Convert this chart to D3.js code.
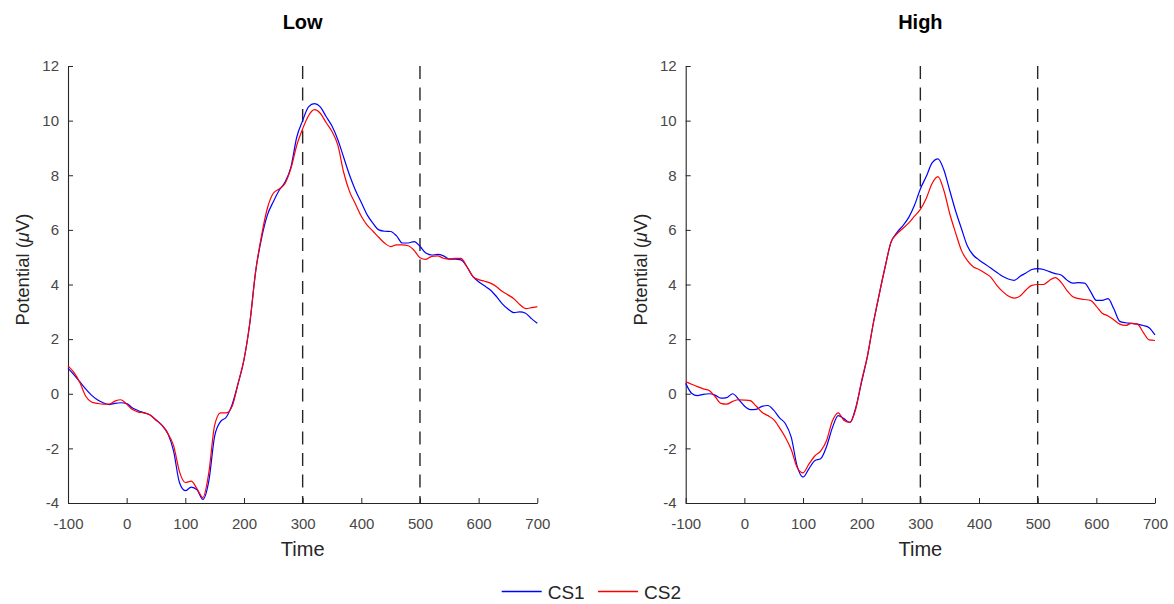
<!DOCTYPE html>
<html>
<head>
<meta charset="utf-8">
<script src="https://cdn.jsdelivr.net/npm/d3@7/dist/d3.min.js"></script>
<style>
  html, body { margin: 0; padding: 0; background: #fff; }
  svg { display: block; font-family: "Liberation Sans", Arial, Helvetica, sans-serif; }
</style>
</head>
<body>
<svg id="chart" width="1174" height="604"></svg>
<script>
// Sample times (ms), one value per 10 ms
const times = [-100,-90,-80,-70,-60,-50,-40,-30,-20,-10,0,10,20,30,40,50,60,70,80,90,
  100,110,120,130,140,150,160,170,180,190,200,210,220,230,240,250,260,270,280,290,
  300,310,320,330,340,350,360,370,380,390,400,410,420,430,440,450,460,470,480,490,
  500,510,520,530,540,550,560,570,580,590,600,610,620,630,640,650,660,670,680,690,700];

// Low condition
const lowCS1 = [0.93,0.70,0.44,0.18,-0.05,-0.22,-0.33,-0.40,-0.35,-0.33,-0.36,-0.52,-0.62,-0.70,-0.78,-0.95,-1.15,-1.45,-2.10,-3.25,
  -3.55,-3.42,-3.52,-3.87,-3.20,-1.55,-1.02,-0.85,-0.38,0.38,1.25,2.60,4.50,5.70,6.55,7.03,7.45,7.75,8.30,9.40,
  10.00,10.50,10.62,10.50,10.15,9.80,9.30,8.65,8.00,7.45,7.00,6.55,6.24,6.00,5.95,5.94,5.78,5.52,5.52,5.57,
  5.40,5.15,5.08,5.10,5.05,4.93,4.93,4.90,4.65,4.30,4.10,3.95,3.80,3.57,3.30,3.10,2.97,3.00,2.95,2.75,2.58];
const lowCS2 = [1.02,0.78,0.42,-0.08,-0.30,-0.35,-0.38,-0.38,-0.27,-0.22,-0.38,-0.58,-0.67,-0.70,-0.78,-0.97,-1.15,-1.45,-1.90,-2.85,
  -3.25,-3.20,-3.48,-3.80,-2.90,-1.15,-0.70,-0.70,-0.45,0.38,1.25,2.60,4.50,5.80,6.80,7.34,7.50,7.70,8.25,9.10,
  9.70,10.18,10.40,10.27,9.93,9.60,9.10,8.10,7.40,6.95,6.50,6.17,5.95,5.72,5.51,5.39,5.45,5.45,5.42,5.25,
  4.98,4.92,5.03,5.05,4.96,4.93,4.96,4.96,4.65,4.30,4.18,4.12,4.05,3.93,3.75,3.62,3.48,3.27,3.12,3.15,3.19];

// High condition
const highCS1 = [0.38,0.02,-0.07,-0.02,0.00,-0.05,-0.16,-0.14,0.00,-0.20,-0.45,-0.58,-0.57,-0.46,-0.43,-0.60,-0.88,-1.10,-1.60,-2.65,
  -3.05,-2.75,-2.45,-2.38,-1.94,-1.25,-0.80,-0.92,-1.05,-0.50,0.44,1.40,2.60,3.65,4.65,5.55,5.90,6.15,6.45,6.90,
  7.50,7.95,8.45,8.60,8.20,7.45,6.70,6.05,5.42,5.08,4.90,4.75,4.60,4.45,4.30,4.20,4.15,4.30,4.42,4.55,
  4.58,4.55,4.47,4.40,4.35,4.16,4.05,4.07,4.05,3.75,3.42,3.42,3.48,3.10,2.65,2.60,2.58,2.55,2.50,2.42,2.15];
const highCS2 = [0.44,0.35,0.26,0.18,0.12,-0.10,-0.35,-0.38,-0.28,-0.22,-0.23,-0.25,-0.45,-0.68,-0.80,-0.95,-1.25,-1.60,-2.05,-2.70,
  -2.90,-2.58,-2.28,-2.10,-1.72,-1.00,-0.70,-0.98,-1.05,-0.55,0.50,1.40,2.60,3.65,4.65,5.55,5.85,6.05,6.25,6.50,
  6.75,7.15,7.70,7.95,7.45,6.60,5.90,5.25,4.88,4.65,4.55,4.42,4.27,3.98,3.75,3.58,3.50,3.58,3.80,3.97,
  4.00,4.00,4.15,4.25,4.08,3.78,3.55,3.48,3.45,3.42,3.20,2.95,2.85,2.70,2.55,2.50,2.58,2.55,2.25,1.97,1.95];

const xTicks = [-100, 0, 100, 200, 300, 400, 500, 600, 700];
const yTicks = [-4, -2, 0, 2, 4, 6, 8, 10, 12];
const markers = [300, 500];
const seriesNames = ["CS1", "CS2"];
const seriesColors = ["#0000ff", "#ff0000"];

const panels = [
  { title: "Low",  left: 68,    values: [lowCS1, lowCS2] },
  { title: "High", left: 685.7, values: [highCS1, highCS2] }
];

const svg = d3.select("#chart");
const plotW = 469.3, plotTop = 66, plotBottom = 503;
const axisColor = "#262626";
const plainNumber = d => String(d);   // ASCII hyphen for negatives

panels.forEach(p => {
  const x = d3.scaleLinear().domain([-100, 700]).range([p.left, p.left + plotW]);
  const y = d3.scaleLinear().domain([-4, 12]).range([plotBottom, plotTop]);
  const g = svg.append("g");

  // Axes with inward ticks
  const xAxis = g.append("g").attr("transform", `translate(0,${plotBottom})`)
    .call(d3.axisBottom(x).tickValues(xTicks).tickFormat(plainNumber)
      .tickSizeInner(-5).tickSizeOuter(0).tickPadding(15));
  const yAxis = g.append("g").attr("transform", `translate(${p.left},0)`)
    .call(d3.axisLeft(y).tickValues(yTicks).tickFormat(plainNumber)
      .tickSizeInner(-5).tickSizeOuter(0).tickPadding(9));
  [xAxis, yAxis].forEach(a => {
    a.select(".domain").attr("stroke", axisColor).attr("stroke-width", 1.1);
    a.selectAll(".tick line").attr("stroke", axisColor);
    a.selectAll(".tick text").attr("fill", "#474747").style("font-size", "15px");
  });

  // Vertical dashed markers
  g.selectAll("line.marker").data(markers).join("line")
    .attr("class", "marker")
    .attr("x1", d => x(d)).attr("x2", d => x(d))
    .attr("y1", plotTop).attr("y2", plotBottom)
    .attr("stroke", axisColor).attr("stroke-width", 1.4)
    .attr("stroke-dasharray", "13,8.5");

  // Waveforms
  const line = d3.line()
    .x((d, i) => x(times[i]))
    .y(d => y(d))
    .curve(d3.curveMonotoneX);
  p.values.forEach((vals, k) => {
    g.append("path").datum(vals)
      .attr("d", line)
      .attr("fill", "none")
      .attr("stroke", seriesColors[k])
      .attr("stroke-width", 1.2)
      .attr("stroke-linejoin", "round");
  });

  const cx = p.left + plotW / 2;
  // Title
  g.append("text").attr("x", cx).attr("y", 29)
    .attr("text-anchor", "middle").attr("font-weight", "bold")
    .style("font-size", "20px").attr("fill", "#000").text(p.title);
  // X label
  g.append("text").attr("x", cx).attr("y", 556)
    .attr("text-anchor", "middle").style("font-size", "20px").attr("fill", "#262626")
    .text("Time");
  // Y label
  const yl = g.append("text")
    .attr("transform", `translate(${p.left - 39},${(plotTop + plotBottom) / 2 - 15}) rotate(-90)`)
    .attr("text-anchor", "middle").style("font-size", "18.5px").attr("fill", "#262626");
  yl.append("tspan").text("Potential (");
  yl.append("tspan").attr("font-style", "italic").text("\u03BC");
  yl.append("tspan").text("V)");
});

// Legend
const legend = svg.append("g");
const legendItems = [{ x: 501.7 }, { x: 598 }];
seriesNames.forEach((name, k) => {
  const lx = legendItems[k].x;
  legend.append("line")
    .attr("x1", lx).attr("x2", lx + 40).attr("y1", 591.5).attr("y2", 591.5)
    .attr("stroke", seriesColors[k]).attr("stroke-width", 1.3);
  legend.append("text").attr("x", lx + 46).attr("y", 598.5)
    .style("font-size", "19px").attr("fill", "#262626").text(name);
});
</script>
</body>
</html>
